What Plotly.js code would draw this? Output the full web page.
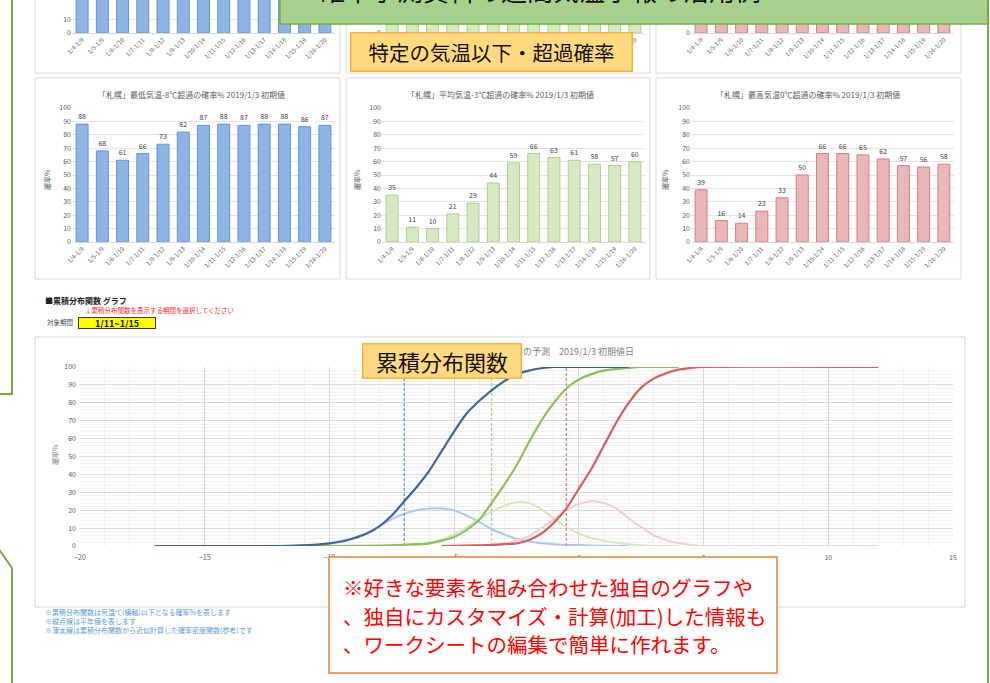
<!DOCTYPE html>
<html>
<head>
<meta charset="utf-8">
<script src="https://cdn.plot.ly/plotly-3.0.1.min.js"></script>
<style>html,body{margin:0;padding:0;background:#fff;}#chart{width:990px;height:683px;}</style>
</head>
<body>
<div id="chart"></div>
<script>
// ---------- data ----------
const periods = ["1/4-1/8","1/5-1/9","1/6-1/10","1/7-1/11","1/8-1/12","1/9-1/13","1/10-1/14","1/11-1/15","1/12-1/16","1/13-1/17","1/14-1/18","1/15-1/19","1/16-1/20"];
// middle row: exceedance probabilities (%)
const minExceed  = [88,68,61,66,73,82,87,88,87,88,88,86,87];
const meanExceed = [35,11,10,21,29,44,59,66,63,61,58,57,60];
const maxExceed  = [39,16,14,23,33,50,66,66,65,62,57,56,58];
// top row (only the lower part is visible in the picture)
const topMin  = [95,90,86,88,92,95,97,97,97,97,97,96,97];
const topMean = [80,60,58,70,75,85,90,92,91,90,89,88,90];
const topMax  = [85,65,62,72,78,86,92,93,92,91,90,89,91];

const chartTitles = [
  "「札幌」最低気温-8℃超過の確率% 2019/1/3 初期値",
  "「札幌」平均気温-3℃超過の確率% 2019/1/3 初期値",
  "「札幌」最高気温0℃超過の確率% 2019/1/3 初期値"
];

// cumulative distribution (x: ℃, y: %)
const blueCdfX = [-17,-12,-10.5,-10,-9.5,-9,-8.5,-8,-7.5,-7,-6.5,-6,-5.5,-5,-4.5,-4,-3.5,-3,-2.5,-2,-1.5,-1,2];
const blueCdfY = [0,0,0.8,1.5,2.5,4.5,7,11,17,25,33,42,53,64,74,81,87,92,96,98,99.3,100,100];
const bluePdfX = [-17,-11,-10.5,-10,-9.5,-9,-8.5,-8,-7.5,-7,-6.5,-6,-5.5,-5,-4.5,-4,-3.5,-3,-2.5,-2,-1.5,-1,0,1,2];
const bluePdfY = [0,0,0.6,1.5,3,4.5,7,11,15,18,20,21,21,20,17,13.5,9.5,6.5,4,2.5,1.6,1,0.5,0.2,0];
const greenCdfX = [-13,-8,-6.5,-6,-5.5,-5,-4.5,-4,-3.5,-3,-2.5,-2,-1.5,-1,-0.5,0,0.5,1,1.5,2,2.5,4];
const greenCdfY = [0,0.2,1,1.5,3,5,9,14.5,24,34,45,58,70,80,88,93,96,98,99,99.5,100,100];
const greenPdfX = [-13,-7,-6.5,-6,-5.5,-5,-4.5,-4,-3.5,-3,-2.5,-2,-1.5,-1,-0.5,0,0.5,1,1.5,2,2.5,3,4];
const greenPdfY = [0,0,0.5,1.5,3.5,6.5,10.5,15,19,22.5,24.5,24,20.5,15.5,10.5,7,4.5,3,1.8,1,0.4,0,0];
const redCdfX = [-5.5,-4,-3.5,-3,-2.5,-2,-1.5,-1,-0.5,0,0.5,1,1.5,2,2.5,3,3.5,4,4.5,5,12];
const redCdfY = [0,0.3,0.6,1,1.5,3.4,7,13,21,32,43,56,69,80,88.5,93.5,96.5,98.5,99.5,100,100];
const redPdfX = [-5.5,-4,-3.5,-3,-2.5,-2,-1.5,-1,-0.5,0,0.5,1,1.5,2,2.5,3,3.5,4,4.5,5,12];
const redPdfY = [0,0.3,0.6,1.2,3,5.5,10,15,20,23.5,25,24,21,15.5,10.5,6,3.3,1.5,0.6,0,0];
const normals = [-7, -3.5, -0.5];

// ---------- helpers ----------
const W = 990, H = 683;
const px = x => x / W;
const py = y => 1 - y / H;
const FONT = "Noto Sans CJK JP, Noto Sans, sans-serif";

const barStyles = [
  {fill:'#8fb4e3', line:'#6394d6'},
  {fill:'#d8e8c3', line:'#add087'},
  {fill:'#e9b7b7', line:'#d47f7f'}
];
const colX = [[72,335],[382,645],[691,954]];

function catX(dom, anchor){
  return {domain:[px(dom[0]),px(dom[1])], anchor, type:'category', range:[-0.5,12.5],
    tickmode:'array', tickvals:periods, ticktext:periods, tickangle:-45,
    tickfont:{size:6,color:'#595959'}, showgrid:false, showline:true, linecolor:'#d9d9d9',
    linewidth:1, ticks:'', zeroline:false, fixedrange:true};
}
function valY(dom, anchor, range, tickvals){
  return {domain:dom, anchor, range, tickmode:'array', tickvals, ticktext:tickvals.map(String),
    showgrid:true, gridcolor:'#e4e4e4', gridwidth:1, zeroline:false, showline:false,
    tickfont:{size:7,color:'#595959'}, ticks:'', fixedrange:true};
}

const layout = {
  width:W, height:H, margin:{l:0,r:0,t:0,b:0,pad:0},
  paper_bgcolor:'#ffffff', plot_bgcolor:'rgba(0,0,0,0)', showlegend:false,
  font:{family:FONT, color:'#595959', size:7},
  bargap:0.41
};

const traces = [];
const topVals = [topMin, topMean, topMax];
const midVals = [minExceed, meanExceed, maxExceed];
const ticks10 = [0,10,20,30,40,50,60,70,80,90,100];

for (let i = 0; i < 3; i++) {
  // top row (cut off at the page top)
  const ti = i + 1;
  const sfx = ti === 1 ? '' : String(ti);
  layout['xaxis' + sfx] = catX(colX[i], 'y' + sfx);
  layout['yaxis' + sfx] = valY([py(33), 1], 'x' + sfx, [0, 33/1.34], [0,10]);
  traces.push({type:'bar', x:periods, y:topVals[i], xaxis:'x'+sfx, yaxis:'y'+sfx,
    marker:{color:barStyles[i].fill, line:{color:barStyles[i].line, width:1}}, hoverinfo:'skip'});
  // middle row
  const mi = i + 4;
  layout['xaxis'+mi] = catX(colX[i], 'y'+mi);
  layout['yaxis'+mi] = valY([py(242), py(108)], 'x'+mi, [0,100], ticks10);
  traces.push({type:'bar', x:periods, y:midVals[i], xaxis:'x'+mi, yaxis:'y'+mi,
    marker:{color:barStyles[i].fill, line:{color:barStyles[i].line, width:1}},
    text:midVals[i].map(String), textposition:'outside', cliponaxis:false,
    textfont:{size:7,color:'#404040'}, hoverinfo:'skip'});
}

// CDF chart
layout.xaxis7 = {domain:[px(80),px(953)], anchor:'y7', range:[-20,15], dtick:5, tick0:-20,
  showgrid:true, gridcolor:'#d9d9d9', gridwidth:1, zeroline:false, showline:false, ticks:'',
  tickfont:{size:7,color:'#595959'}, ticklabelstandoff:6,
  minor:{dtick:1, showgrid:true, gridcolor:'#efefef', gridwidth:1}, fixedrange:true};
layout.yaxis7 = {domain:[py(546),py(367)], anchor:'x7', range:[0,100], dtick:10, tick0:0,
  showgrid:true, gridcolor:'#d9d9d9', gridwidth:1, zeroline:false, showline:false, ticks:'',
  tickfont:{size:7,color:'#595959'}, ticklabelstandoff:3,
  minor:{dtick:2, showgrid:true, gridcolor:'#f1f1f1', gridwidth:1}, fixedrange:true};

const lineT = (x, y, color, width) => ({type:'scatter', mode:'lines', x, y, xaxis:'x7', yaxis:'y7',
  line:{color, width, shape:'spline', smoothing:0.6}, hoverinfo:'skip', cliponaxis:false});
traces.push(lineT(bluePdfX, bluePdfY, '#a9c9ee', 2));
traces.push(lineT(greenPdfX, greenPdfY, '#d5e7c0', 2));
traces.push(lineT(redPdfX, redPdfY, '#f4cccc', 2));
const normColors = ['#5b9bd5', '#a9d18e', '#e07b7b'];
normals.forEach((v, k) => {
  traces.push({type:'scatter', mode:'lines', x:[v, v], y:[0, 100], xaxis:'x7', yaxis:'y7',
    line:{color:normColors[k], width:1.3, dash:'3px,2px'}, hoverinfo:'skip'});
});
traces.push(lineT(greenCdfX, greenCdfY, '#8cc05a', 2.2));
traces.push(lineT(redCdfX, redCdfY, '#d35e5e', 2.2));
traces.push(lineT(blueCdfX, blueCdfY, '#41669f', 2.2));

// ---------- shapes ----------
const gray = '#d9d9d9';
const rect = (x0,y0,x1,y1,line,fill,layer,w) => ({type:'rect', xref:'paper', yref:'paper',
  x0:px(x0), x1:px(x1), y0:py(y1), y1:py(y0), line:{color:line, width:w||1}, fillcolor:fill||'rgba(0,0,0,0)', layer:layer||'below'});
const path = (pts, color, w) => ({type:'path', xref:'paper', yref:'paper', layer:'above',
  path: pts.map((p,j)=>(j?'L':'M')+px(p[0])+','+py(p[1])).join(' '), line:{color, width:w}});

layout.shapes = [
  rect(35,-5,340,73,gray), rect(346,-5,650,73,gray), rect(656,-5,961,73,gray),
  rect(35,78,340,279,gray), rect(346,78,650,279,gray), rect(656,78,961,279,gray),
  rect(35,337,965,607,gray),
  rect(280,-4,988,24,'#70ad47','#a9d18e','above',1.5),
  path([[12,-4],[12,394],[-4,394]], '#70ad47', 2),
  path([[-4,545],[12,568],[12,690]], '#70ad47', 2),
  path([[988,-4],[988,690]], '#70ad47', 2),
  rect(329,557,777,673,'#ed7d31','#ffffff','above',1.5)
];

// ---------- annotations ----------
const ann = (x, y, text, opt) => Object.assign({xref:'paper', yref:'paper', x:px(x), y:py(y), text,
  showarrow:false, xanchor:'center', yanchor:'middle', font:{family:FONT, size:7, color:'#595959'}}, opt||{});
const titleCenters = [191, 500, 808];
const yTitleX = [47, 357, 665];
const annotations = [];
for (let i = 0; i < 3; i++) {
  annotations.push(ann(titleCenters[i], 95, chartTitles[i], {font:{family:FONT, size:8, color:'#595959'}}));
  annotations.push(ann(yTitleX[i], 180, '確率%', {textangle:-90, font:{family:FONT, size:7, color:'#595959'}}));
}
annotations.push(ann(55, 455, '確率%', {textangle:-90, font:{family:FONT, size:7, color:'#7f7f7f'}}));
annotations.push(ann(636, 351, '気温の予測　2019/1/3 初期値日', {xanchor:'right', font:{family:FONT, size:9, color:'#7f7f7f'}}));
annotations.push(ann(43, 300, '<b>■累積分布関数 グラフ</b>', {xanchor:'left', font:{family:FONT, size:8, color:'#222'}}));
annotations.push(ann(83, 309.5, '↓累積分布関数を表示する期間を選択してください', {xanchor:'left', font:{family:FONT, size:6.5, color:'#ff2020'}}));
annotations.push(ann(45, 322, '対象期間', {xanchor:'left', font:{family:FONT, size:6.5, color:'#444'}}));
annotations.push(ann(117, 322.5, '<b>1/11~1/15</b>', {bgcolor:'#ffff00', bordercolor:'#3a3a3a', borderwidth:1, borderpad:0, width:76, height:10, font:{family:FONT, size:9, color:'#111'}}));
const notes = [
  '※累積分布関数は気温℃(横軸)以下となる確率%を表します',
  '※縦点線は平年値を表します',
  '※薄太線は累積分布関数から近似計算した確率密度関数(参考)です'
];
notes.forEach((t, k) => annotations.push(ann(43, 612 + k * 9, t, {xanchor:'left', font:{family:FONT, size:7, color:'#5b9bd5'}})));
// labels
annotations.push(ann(491, 52.5, '特定の気温以下・超過確率', {bgcolor:'#ffd97f', bordercolor:'#f2b33d', borderwidth:1.5, borderpad:0, width:280, height:37, font:{family:FONT, size:20.5, color:'#111'}}));
annotations.push(ann(442, 360.5, '累積分布関数', {bgcolor:'#ffd97f', bordercolor:'#f2b33d', borderwidth:1.5, borderpad:0, width:157, height:33, font:{family:FONT, size:22, color:'#111'}}));
annotations.push(ann(540, -11, '確率予測資料の週間気温予報の活用例', {font:{family:FONT, size:26, color:'#111'}}));
const redLines = [
  '※好きな要素を組み合わせた独自のグラフや',
  '、独自にカスタマイズ・計算(加工)した情報も',
  '、ワークシートの編集で簡単に作れます。'
];
redLines.forEach((t, k) => annotations.push(ann(341, 587 + k * 28.5, t, {xanchor:'left', font:{family:FONT, size:20.5, color:'#ff0000'}})));
layout.annotations = annotations;

Plotly.newPlot('chart', traces, layout, {staticPlot:true, displayModeBar:false});
</script>
</body>
</html>
